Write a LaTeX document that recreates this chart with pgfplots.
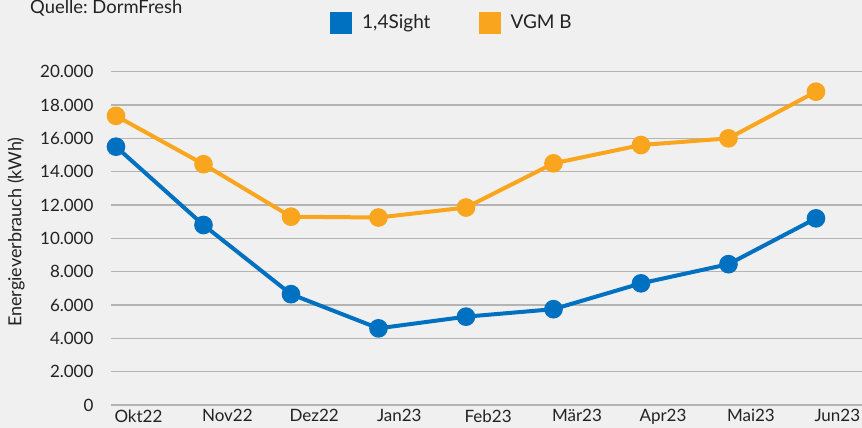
\documentclass[border=0pt]{standalone}
\usepackage{pgfplots}
\pgfplotsset{compat=1.18}
\usepackage{fontspec}
\setmainfont{Lato}
\frenchspacing
\definecolor{bg}{HTML}{F0F0F0}
\definecolor{gridc}{HTML}{B4B4B4}
\definecolor{blue1}{HTML}{0070C0}
\definecolor{orange1}{HTML}{F9A51E}
\definecolor{txt}{HTML}{222222}
\begin{document}
\begin{tikzpicture}[x=1pt,y=1pt]
\fill[bg] (0,0) rectangle (862,428);
\path[use as bounding box] (0,0) rectangle (862,428);
\node[anchor=base west, font=\fontsize{18.4}{20}\selectfont, text=txt, inner sep=0] at (30,414) {Quelle:\ DormFresh};
\begin{axis}[
  at={(111pt,23pt)}, anchor=south west,
  scale only axis, width=751pt, height=333.3pt,
  xmin=-0.057, xmax=8.526, ymin=0, ymax=20000,
  clip=false,
  axis line style={draw=none},
  tick style={draw=none},
  ytick={0,2000,...,20000},
  ymajorgrids,
  grid style={gridc, line width=1.5pt},
  xtick={0,...,8},
  xticklabels={Okt22,Nov22,Dez22,Jan23,Feb23,Mär23,Apr23,Mai23,Jun23},
  xticklabel style={anchor=north west, xshift=-5pt, yshift=-1pt},
  yticklabel style={anchor=east, xshift=-14pt},
  scaled y ticks=false,
  /pgf/number format/1000 sep={.},
  /pgf/number format/assume math mode=true,
  ticklabel style={font=\fontsize{17}{20}\selectfont, text=txt},
  ylabel={Energieverbrauch (kWh)},
  ylabel style={at={(axis description cs:-0.1265,0.519)}, anchor=center, font=\fontsize{18}{20}\selectfont, text=txt},
  legend style={at={(0.454,1.147)}, anchor=center, draw=none, fill=none,
    font=\fontsize{19}{21}\selectfont, text=txt,
    legend columns=2,
    /tikz/every even column/.append style={column sep=46pt}},
  legend image code/.code={\fill[#1,draw=none] (0pt,-11pt) rectangle (22pt,11pt); \path[draw=none,fill=none] (22pt,0pt) -- (30pt,0pt);},
]
\addplot[blue1, line width=4pt, mark=*, mark size=7.3pt] coordinates {
 (0,15500) (1,10800) (2,6650) (3,4600) (4,5300) (5,5750) (6,7300) (7,8450) (8,11200)};
\addlegendentry{1,4Sight}
\addplot[orange1, line width=4pt, mark=*, mark size=7.3pt] coordinates {
 (0,17350) (1,14450) (2,11300) (3,11250) (4,11850) (5,14500) (6,15600) (7,16000) (8,18800)};
\addlegendentry{VGM B}
\end{axis}
\end{tikzpicture}
\end{document}
